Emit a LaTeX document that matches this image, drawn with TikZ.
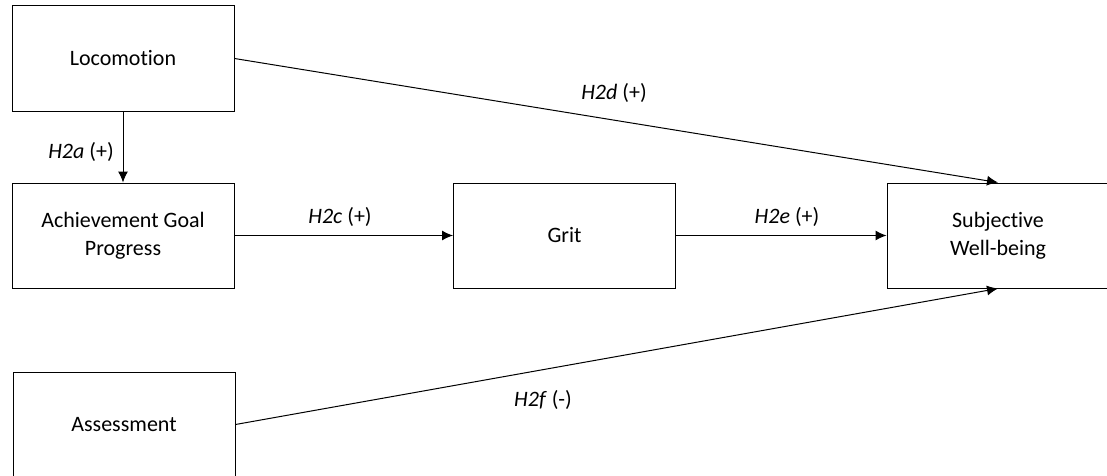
\documentclass[tikz,border=0pt]{standalone}
\usepackage{fontspec}
\setmainfont{Carlito}[Ligatures=NoCommon]
\usetikzlibrary{arrows.meta}

\begin{document}
\begin{tikzpicture}[x=1pt,y=1pt,line width=1pt,
    every node/.style={font=\fontsize{22}{28}\selectfont},
    box/.style={draw,minimum width=222,minimum height=105,inner sep=0pt,align=center},
    arr/.style={-{Latex[length=11pt,width=10pt]}}]
    \clip (0,0) rectangle (1107,475);
    \node[box](loco)at(123,416.5){Locomotion};
    \node[box](agp)at(123,239.5){Achievement Goal\\Progress};
    \node[box](grit)at(564.5,239.5){Grit};
    \node[box](swb)at(998,239.5){Subjective\\Well-being};
    \node[box](assess)at(124,50.5){Assessment};

    \node[draw=none](ha)at(81,323){\textit{H2a} (+)};
    \node[draw=none](hc)at(340,258){\textit{H2c} (+)};
    \node[draw=none](hd)at(614,382){\textit{H2d} (+)};
    \node[draw=none](he)at(787,258){\textit{H2e} (+)};
    \node[draw=none](hf)at(543,75){\textit{H2f} (-)};

    \draw[arr] (loco) to (agp);
    \draw[arr] (agp) to (grit);
    \draw[arr] (grit) to (swb);
    \draw[arr] (loco.east) to (swb.north);
    \draw[arr] (assess.east) to (swb.south);
  \end{tikzpicture}
\end{document}
